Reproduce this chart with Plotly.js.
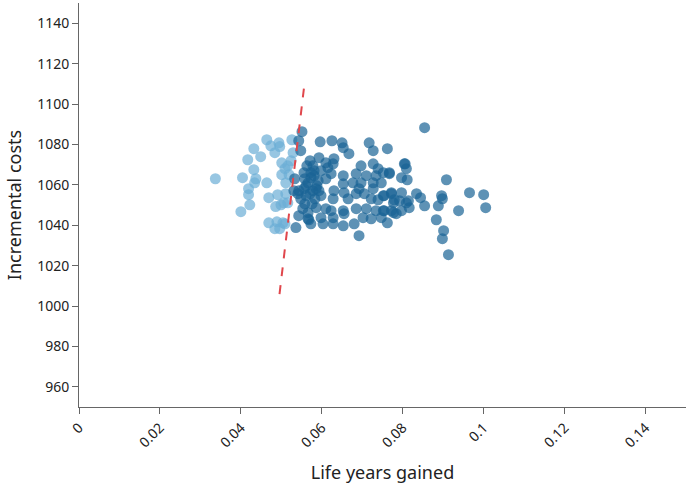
<!DOCTYPE html>
<html>
<head>
<meta charset="utf-8">
<script src="https://cdn.plot.ly/plotly-3.0.1.min.js"></script>
<style>
  html, body { margin: 0; padding: 0; background: #fff; }
  #chart { width: 688px; height: 490px; }
</style>
</head>
<body>
<div id="chart"></div>
<script>
// simulations below the willingness-to-pay line (not cost-effective)
const lightLYG = [0.0337, 0.0400, 0.0404, 0.0417, 0.0419, 0.0419, 0.0422, 0.0432, 0.0432, 0.0434,
  0.0449, 0.0437, 0.0464, 0.0474, 0.0494, 0.0496, 0.0484, 0.0526, 0.0529, 0.0501,
  0.0516, 0.0524, 0.0509, 0.0519, 0.0501, 0.0464, 0.0511, 0.0469, 0.0491, 0.0511,
  0.0499, 0.0506, 0.0486, 0.0516, 0.0469, 0.0489, 0.0504, 0.0484, 0.0496, 0.0509];
const lightCost = [1063.0, 1046.7, 1063.5, 1072.4, 1058.1, 1055.1, 1050.1, 1077.9, 1067.5, 1061.0,
  1073.9, 1063.0, 1082.3, 1079.3, 1080.8, 1078.9, 1075.9, 1082.3, 1075.9, 1070.9,
  1069.4, 1071.9, 1068.0, 1065.0, 1065.0, 1061.0, 1061.0, 1053.6, 1055.1, 1055.6,
  1050.1, 1051.1, 1049.2, 1051.1, 1041.2, 1041.7, 1041.2, 1038.3, 1038.3, 1040.7];

// simulations right of the line (cost-effective)
const darkLYG = [0.0543, 0.0551, 0.0548, 0.0596, 0.0625, 0.0650, 0.0653, 0.0667, 0.0717, 0.0762,
  0.0727, 0.0571, 0.0578, 0.0593, 0.0610, 0.0628, 0.0630, 0.0615, 0.0581, 0.0598,
  0.0556, 0.0697, 0.0727, 0.0739, 0.0752, 0.0767, 0.0804, 0.0809, 0.0581, 0.0623,
  0.0653, 0.0685, 0.0710, 0.0734, 0.0797, 0.0811, 0.0566, 0.0591, 0.0610, 0.0653,
  0.0677, 0.0697, 0.0727, 0.0747, 0.0556, 0.0586, 0.0630, 0.0655, 0.0692, 0.0705,
  0.0727, 0.0752, 0.0772, 0.0797, 0.0561, 0.0598, 0.0628, 0.0665, 0.0685, 0.0722,
  0.0739, 0.0777, 0.0792, 0.0809, 0.0553, 0.0586, 0.0610, 0.0623, 0.0653, 0.0685,
  0.0710, 0.0734, 0.0752, 0.0772, 0.0797, 0.0566, 0.0598, 0.0628, 0.0655, 0.0702,
  0.0722, 0.0747, 0.0573, 0.0603, 0.0628, 0.0653, 0.0680, 0.0692, 0.0854, 0.0806,
  0.0767, 0.0908, 0.0772, 0.0834, 0.0844, 0.0896, 0.0898, 0.0965, 0.1000, 0.0754,
  0.0779, 0.0814, 0.0816, 0.0854, 0.0888, 0.0938, 0.1005, 0.0754, 0.0777, 0.0784,
  0.0762, 0.0883, 0.0901, 0.0898, 0.0913, 0.0573, 0.0561, 0.0543, 0.0531, 0.0548,
  0.0578, 0.0566, 0.0543, 0.0568, 0.0536, 0.0533, 0.0541, 0.0563, 0.0558, 0.0573,
  0.0588, 0.0571, 0.0583, 0.0558, 0.0593, 0.0576];
const darkCost = [1081.8, 1086.3, 1076.9, 1081.3, 1081.8, 1080.8, 1078.4, 1075.4, 1080.8, 1077.9,
  1076.9, 1071.9, 1069.4, 1073.4, 1070.9, 1070.4, 1072.9, 1068.5, 1067.0, 1067.0,
  1066.0, 1069.4, 1070.4, 1068.0, 1066.0, 1066.0, 1070.4, 1068.0, 1064.5, 1065.5,
  1064.5, 1065.5, 1064.5, 1064.5, 1063.5, 1062.5, 1061.0, 1062.0, 1063.0, 1060.5,
  1061.0, 1061.0, 1061.0, 1061.0, 1058.1, 1058.1, 1057.1, 1056.1, 1058.1, 1055.6,
  1058.1, 1054.6, 1056.1, 1056.1, 1054.6, 1054.6, 1053.1, 1053.1, 1055.6, 1053.1,
  1052.6, 1051.1, 1052.1, 1051.1, 1048.2, 1048.7, 1048.2, 1047.2, 1047.2, 1048.2,
  1048.2, 1047.2, 1047.2, 1047.2, 1047.2, 1043.2, 1043.7, 1043.7, 1045.7, 1043.7,
  1043.2, 1043.7, 1040.7, 1040.7, 1040.7, 1039.7, 1040.7, 1034.8, 1088.3, 1070.4,
  1065.5, 1062.5, 1055.6, 1055.6, 1053.6, 1054.6, 1053.1, 1056.1, 1055.1, 1054.6,
  1052.6, 1052.1, 1048.7, 1049.6, 1049.6, 1047.2, 1048.7, 1047.2, 1046.2, 1045.7,
  1041.2, 1042.7, 1037.3, 1033.3, 1025.4, 1063.5, 1059.5, 1057.1, 1057.1, 1053.1,
  1057.1, 1046.2, 1044.7, 1042.7, 1038.8, 1063.0, 1055.6, 1069.4, 1063.0, 1066.0,
  1059.5, 1055.6, 1053.1, 1050.6, 1057.1, 1050.6];

// willingness-to-pay threshold line
const wtpLYG = [0.04955, 0.05566];
const wtpCost = [1005.9, 1109.1];

const xTicks = [0, 0.02, 0.04, 0.06, 0.08, 0.1, 0.12, 0.14];
const yTicks = [960, 980, 1000, 1020, 1040, 1060, 1080, 1100, 1120, 1140];

const font = 'Noto Sans, sans-serif';

const traces = [
  {
    x: lightLYG, y: lightCost, type: 'scatter', mode: 'markers', name: 'Not cost-effective',
    marker: { color: '#6baed6', size: 11, opacity: 0.7, line: { width: 0 } },
    hoverinfo: 'x+y'
  },
  {
    x: darkLYG, y: darkCost, type: 'scatter', mode: 'markers', name: 'Cost-effective',
    marker: { color: '#1a6496', size: 11, opacity: 0.7, line: { width: 0 } },
    hoverinfo: 'x+y'
  },
  {
    x: wtpLYG, y: wtpCost, type: 'scatter', mode: 'lines', name: 'WTP',
    line: { color: '#e0474c', width: 2, dash: 'dash' },
    hoverinfo: 'skip'
  }
];

const layout = {
  width: 688,
  height: 490,
  margin: { l: 79, r: 2, t: 3, b: 83 },
  paper_bgcolor: '#fff',
  plot_bgcolor: '#fff',
  showlegend: false,
  font: { family: font, color: '#222', size: 14 },
  xaxis: {
    range: [0, 0.15],
    tickvals: xTicks,
    ticktext: xTicks.map(String),
    tickangle: -45,
    ticks: 'outside', ticklen: 6, tickcolor: '#666',
    showline: true, linecolor: '#666', linewidth: 1,
    showgrid: false, zeroline: false,
    tickfont: { family: font, size: 14, color: '#222' },
    title: { text: 'Life years gained', font: { family: font, size: 18, color: '#222' }, standoff: 16 }
  },
  yaxis: {
    range: [950, 1150],
    tickvals: yTicks,
    ticks: 'outside', ticklen: 6, tickcolor: '#666',
    showline: true, linecolor: '#666', linewidth: 1,
    showgrid: false, zeroline: false,
    tickfont: { family: font, size: 14, color: '#222' },
    title: { text: 'Incremental costs', font: { family: font, size: 18, color: '#222' }, standoff: 10 }
  }
};

Plotly.newPlot('chart', traces, layout, { displayModeBar: false, staticPlot: true });
</script>
</body>
</html>
